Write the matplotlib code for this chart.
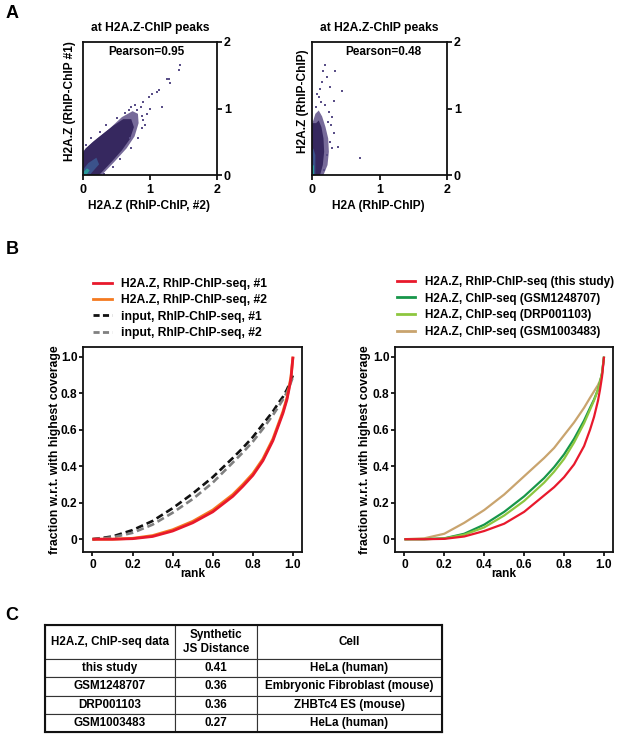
import matplotlib
matplotlib.use("Agg")
import matplotlib.pyplot as plt
from matplotlib.lines import Line2D

plt.rcParams['font.family'] = ['Liberation Sans', 'DejaVu Sans']
plt.rcParams['font.weight'] = 'bold'
plt.rcParams['axes.labelweight'] = 'bold'
plt.rcParams['axes.titleweight'] = 'bold'

# ---------------- data ----------------
# panel A, left: H2A.Z rep #2 (x) vs rep #1 (y) -- cloud outlines
a1_halo_x = [0, 0.28, 0.47, 0.65, 0.77, 0.83, 0.82, 0.74, 0.58, 0.40, 0.20, 0.08, 0]
a1_halo_y = [0, 0, 0.20, 0.40, 0.58, 0.78, 0.92, 0.96, 0.87, 0.70, 0.54, 0.43, 0.36]
a1_core_x = [0, 0.24, 0.42, 0.58, 0.70, 0.76, 0.72, 0.60, 0.45, 0.30, 0.15, 0.04, 0]
a1_core_y = [0, 0, 0.19, 0.37, 0.54, 0.72, 0.84, 0.84, 0.74, 0.62, 0.50, 0.40, 0.33]
a1_mid_x = [0, 0.10, 0.24, 0.20, 0.08, 0]
a1_mid_y = [0, 0, 0.16, 0.26, 0.18, 0.08]
a1_hot_x = [0, 0.05, 0.10, 0.06, 0]
a1_hot_y = [0, 0, 0.07, 0.10, 0.04]
a1_out_x = [1.45, 1.43, 1.28, 1.30, 1.25, 1.10, 1.03, 0.98, 0.90, 1.00, 1.18, 0.86, 0.80, 1.13, 0.93, 0.70, 0.88,
            0.05, 0.12, 0.25, 0.35, 0.50, 0.62, 0.72, 0.78, 0.32, 0.45, 0.55, 0.72, 0.82, 0.88, 0.90, 0.95, 0.68]
a1_out_y = [1.65, 1.58, 1.45, 1.38, 1.45, 1.25, 1.22, 1.17, 1.10, 1.00, 1.02, 1.02, 0.97, 1.28, 0.75, 0.55, 0.88,
            0.45, 0.55, 0.65, 0.75, 0.86, 0.93, 1.02, 1.05, 0.02, 0.12, 0.24, 0.40, 0.55, 0.70, 0.83, 0.92, 0.98]

# panel A, right: H2A (x) vs H2A.Z (y)
a2_halo_x = [0, 0.17, 0.23, 0.25, 0.24, 0.20, 0.15, 0.10, 0.05, 0.02, 0]
a2_halo_y = [0, 0, 0.15, 0.35, 0.55, 0.72, 0.88, 0.97, 0.92, 0.82, 0.78]
a2_core_x = [0, 0.12, 0.16, 0.18, 0.17, 0.14, 0.10, 0.06, 0]
a2_core_y = [0, 0, 0.15, 0.35, 0.55, 0.72, 0.82, 0.78, 0.78]
a2_mid_x = [0, 0.05, 0.05, 0.02, 0]
a2_mid_y = [0, 0, 0.30, 0.40, 0.35]
a2_hot_x = [0, 0.03, 0.03, 0]
a2_hot_y = [0, 0, 0.14, 0.16]
a2_out_x = [0.19, 0.17, 0.34, 0.22, 0.45, 0.12, 0.27, 0.38, 0.71, 0.32, 0.29, 0.32, 0.15, 0.08,
            0.20, 0.25, 0.28, 0.27, 0.22, 0.18, 0.13, 0.06, 0.10, 0.24, 0.30]
a2_out_y = [1.65, 1.57, 1.57, 1.47, 1.27, 1.30, 1.32, 0.42, 0.25, 1.12, 0.87, 0.63, 1.40, 1.22,
            1.05, 0.95, 0.75, 0.50, 0.30, 0.08, 1.10, 1.02, 1.18, 0.80, 0.40]

# panel B: fingerprint curves
rank = [0, 0.1, 0.2, 0.3, 0.4, 0.5, 0.6, 0.7, 0.75, 0.8, 0.85, 0.9, 0.93, 0.95, 0.97, 0.98, 0.99, 1.0]
rep1 = [0, 0, 0.003, 0.015, 0.045, 0.09, 0.15, 0.235, 0.29, 0.35, 0.43, 0.54, 0.63, 0.69, 0.765, 0.82, 0.88, 1.0]
rep2 = [0, 0, 0.005, 0.02, 0.052, 0.098, 0.16, 0.245, 0.30, 0.36, 0.44, 0.55, 0.64, 0.70, 0.775, 0.83, 0.89, 1.0]
input1 = [0, 0.015, 0.05, 0.10, 0.17, 0.25, 0.34, 0.445, 0.50, 0.56, 0.63, 0.70, 0.75, 0.78, 0.82, 0.845, 0.87, 0.90]
input2 = [0, 0.01, 0.035, 0.08, 0.145, 0.22, 0.31, 0.42, 0.475, 0.535, 0.605, 0.68, 0.73, 0.765, 0.805, 0.83, 0.86, 0.89]

this_study = [0, 0, 0.002, 0.015, 0.045, 0.085, 0.15, 0.24, 0.285, 0.34, 0.41, 0.51, 0.60, 0.67, 0.76, 0.82, 0.89, 1.0]
gsm1248707 = [0, 0, 0.005, 0.03, 0.08, 0.15, 0.235, 0.335, 0.395, 0.465, 0.55, 0.65, 0.72, 0.765, 0.82, 0.86, 0.91, 1.0]
drp001103 = [0, 0, 0.004, 0.025, 0.065, 0.13, 0.21, 0.31, 0.37, 0.44, 0.53, 0.635, 0.71, 0.76, 0.82, 0.86, 0.91, 1.0]
gsm1003483 = [0, 0.005, 0.03, 0.09, 0.16, 0.245, 0.345, 0.445, 0.50, 0.57, 0.64, 0.72, 0.775, 0.81, 0.845, 0.87, 0.90, 1.0]

left_labels = ['H2A.Z, RhIP-ChIP-seq, #1', 'H2A.Z, RhIP-ChIP-seq, #2',
               'input, RhIP-ChIP-seq, #1', 'input, RhIP-ChIP-seq, #2']
right_labels = ['H2A.Z, RhIP-ChIP-seq (this study)', 'H2A.Z, ChIP-seq (GSM1248707)',
                'H2A.Z, ChIP-seq (DRP001103)', 'H2A.Z, ChIP-seq (GSM1003483)']

# panel C table
col_labels = ['H2A.Z, ChIP-seq data', 'Synthetic\nJS Distance', 'Cell']
datasets = ['this study', 'GSM1248707', 'DRP001103', 'GSM1003483']
js_dist = ['0.41', '0.36', '0.36', '0.27']
cells = ['HeLa (human)', 'Embryonic Fibroblast (mouse)', 'ZHBTc4 ES (mouse)', 'HeLa (human)']

# ---------------- figure ----------------
W, H = 617, 737
fig = plt.figure(figsize=(W / 100, H / 100), dpi=100)


def px_axes(l, t, r, b):
    return fig.add_axes([l / W, 1 - b / H, (r - l) / W, (b - t) / H])


def style_box(ax, lw=1.3):
    for s in ax.spines.values():
        s.set_linewidth(lw)
        s.set_color('#111111')


# ----- panel A -----
scatter_sets = [
    (a1_halo_x, a1_halo_y, a1_core_x, a1_core_y, a1_mid_x, a1_mid_y, a1_hot_x, a1_hot_y, a1_out_x, a1_out_y),
    (a2_halo_x, a2_halo_y, a2_core_x, a2_core_y, a2_mid_x, a2_mid_y, a2_hot_x, a2_hot_y, a2_out_x, a2_out_y),
]
a_boxes = [(83, 42, 217, 175), (312, 42, 447, 175)]
pearson = ['Pearson=0.95', 'Pearson=0.48']
pear_x = [0.475, 0.526]
a_xlab = ['H2A.Z (RhIP-ChIP, #2)', 'H2A (RhIP-ChIP)']
a_ylab = ['H2A.Z (RhIP-ChIP #1)', 'H2A.Z (RhIP-ChIP)']
a_ylab_x = [70, 303]

for i, box in enumerate(a_boxes):
    ax = px_axes(*box)
    hx, hy, cx, cy, mx, my, tx, ty, ox, oy = scatter_sets[i]
    ax.fill(hx, hy, color='#4a3a78', alpha=0.75, lw=0)
    ax.fill(cx, cy, color='#36285f', lw=0)
    ax.fill(mx, my, color='#3b528b', lw=0)
    ax.fill(tx, ty, color='#2a9a9a', lw=0)
    ax.scatter(ox, oy, s=1.2, marker='s', color='#5a4f88', lw=0)
    ax.set_xlim(0, 2)
    ax.set_ylim(0, 2)
    ax.set_xticks([0, 1, 2])
    ax.set_yticks([0, 1, 2])
    ax.yaxis.tick_right()
    ax.tick_params(axis='both', labelsize=9, length=3.5, width=1.2, pad=3)
    ax.tick_params(axis='y', pad=1.5)
    style_box(ax)
    ax.set_title('at H2A.Z-ChIP peaks', fontsize=8.7, pad=8)
    ax.text(pear_x[i], 0.925, pearson[i], transform=ax.transAxes, ha='center', va='center', fontsize=8.5)
    fig.text(((box[0] + box[2]) / 2 - 1) / W, 1 - 206 / H, a_xlab[i], ha='center', va='center', fontsize=8.6)
    fig.text(a_ylab_x[i] / W, 1 - 101 / H, a_ylab[i], ha='center', va='center', rotation=90, fontsize=8.6)

# ----- panel B -----
b_boxes = [(83, 347, 302, 552), (395, 347, 613, 552)]
b_ylab_x = [55, 365]
series_sets = [
    [(input1, '#111111', '--'), (input2, '#808080', '--'), (rep2, '#f47a20', '-'), (rep1, '#e8192c', '-')],
    [(gsm1003483, '#c9a46e', '-'), (gsm1248707, '#17964a', '-'), (drp001103, '#8dc63f', '-'), (this_study, '#e8192c', '-')],
]
legend_orders = [[3, 2, 0, 1], [3, 1, 2, 0]]
label_sets = [left_labels, right_labels]
line_w = [2.0, 1.6]
leg_size = [8.7, 8.5]
leg_space = [0.35, 0.39]
leg_x = [93, 397]
leg_y = [1.04, 1.045]

for i, box in enumerate(b_boxes):
    ax = px_axes(*box)
    lines = []
    for ys, col, ls in series_sets[i]:
        if ls == '--':
            ln, = ax.plot(rank, ys, color=col, lw=1.9, dashes=(2.8, 1.5))
        else:
            ln, = ax.plot(rank, ys, color=col, lw=line_w[i], solid_capstyle='butt')
        lines.append(ln)
    ax.set_xlim(-0.047, 1.045)
    ax.set_ylim(-0.07, 1.053)
    ax.set_xticks([0, 0.2, 0.4, 0.6, 0.8, 1.0])
    ax.set_xticklabels(['0', '0.2', '0.4', '0.6', '0.8', '1.0'])
    ax.set_yticks([0, 0.2, 0.4, 0.6, 0.8, 1.0])
    ax.set_yticklabels(['0', '0.2', '0.4', '0.6', '0.8', '1.0'])
    ax.tick_params(axis='both', labelsize=8.6, length=3, width=1.2, pad=1)
    ax.tick_params(axis='x', pad=2)
    style_box(ax)
    fig.text((box[0] + box[2]) / 2 / W, 1 - 574 / H, 'rank', ha='center', va='center', fontsize=8.6)
    fig.text(b_ylab_x[i] / W, 1 - 450 / H, 'fraction w.r.t. with highest coverage',
             ha='center', va='center', rotation=90, fontsize=8.8)
    handles = []
    for k in legend_orders[i]:
        src = lines[k]
        h = Line2D([], [], color=src.get_color(), lw=2.0)
        if src.get_linestyle() == '--':
            h.set_dashes((2.2, 1.2))
        handles.append(h)
    lx = (leg_x[i] - box[0]) / (box[2] - box[0])
    ax.legend(handles, label_sets[i], loc='lower left', bbox_to_anchor=(lx, leg_y[i]),
              frameon=False, fontsize=leg_size[i], handlelength=1.55, handletextpad=0.8,
              labelspacing=leg_space[i], borderpad=0, borderaxespad=0)

# ----- panel C -----
tax = px_axes(44.5, 625, 442, 732)
rows = [[d, j, c] for d, j, c in zip(datasets, js_dist, cells)]
tbl = tax.table(cellText=rows, colLabels=col_labels, colWidths=[0.328, 0.206, 0.466],
                cellLoc='center', bbox=[0, 0, 1, 1])
tbl.auto_set_font_size(False)
tbl.set_fontsize(8.4)
for (r, c), cell in tbl.get_celld().items():
    cell.set_linewidth(0.8)
    cell.set_edgecolor('#333333')
    cell.get_text().set_fontweight('bold')
    cell.set_height(34 / 107 if r == 0 else 18.25 / 107)
tax.set_xticks([])
tax.set_yticks([])
style_box(tax, 1.5)
tax.patch.set_alpha(0)

# panel letters
for letter, y in [('A', 13), ('B', 249), ('C', 616)]:
    fig.text(12 / W, 1 - y / H, letter, ha='center', va='center', fontsize=13)

fig.savefig('out.png', dpi=100)
